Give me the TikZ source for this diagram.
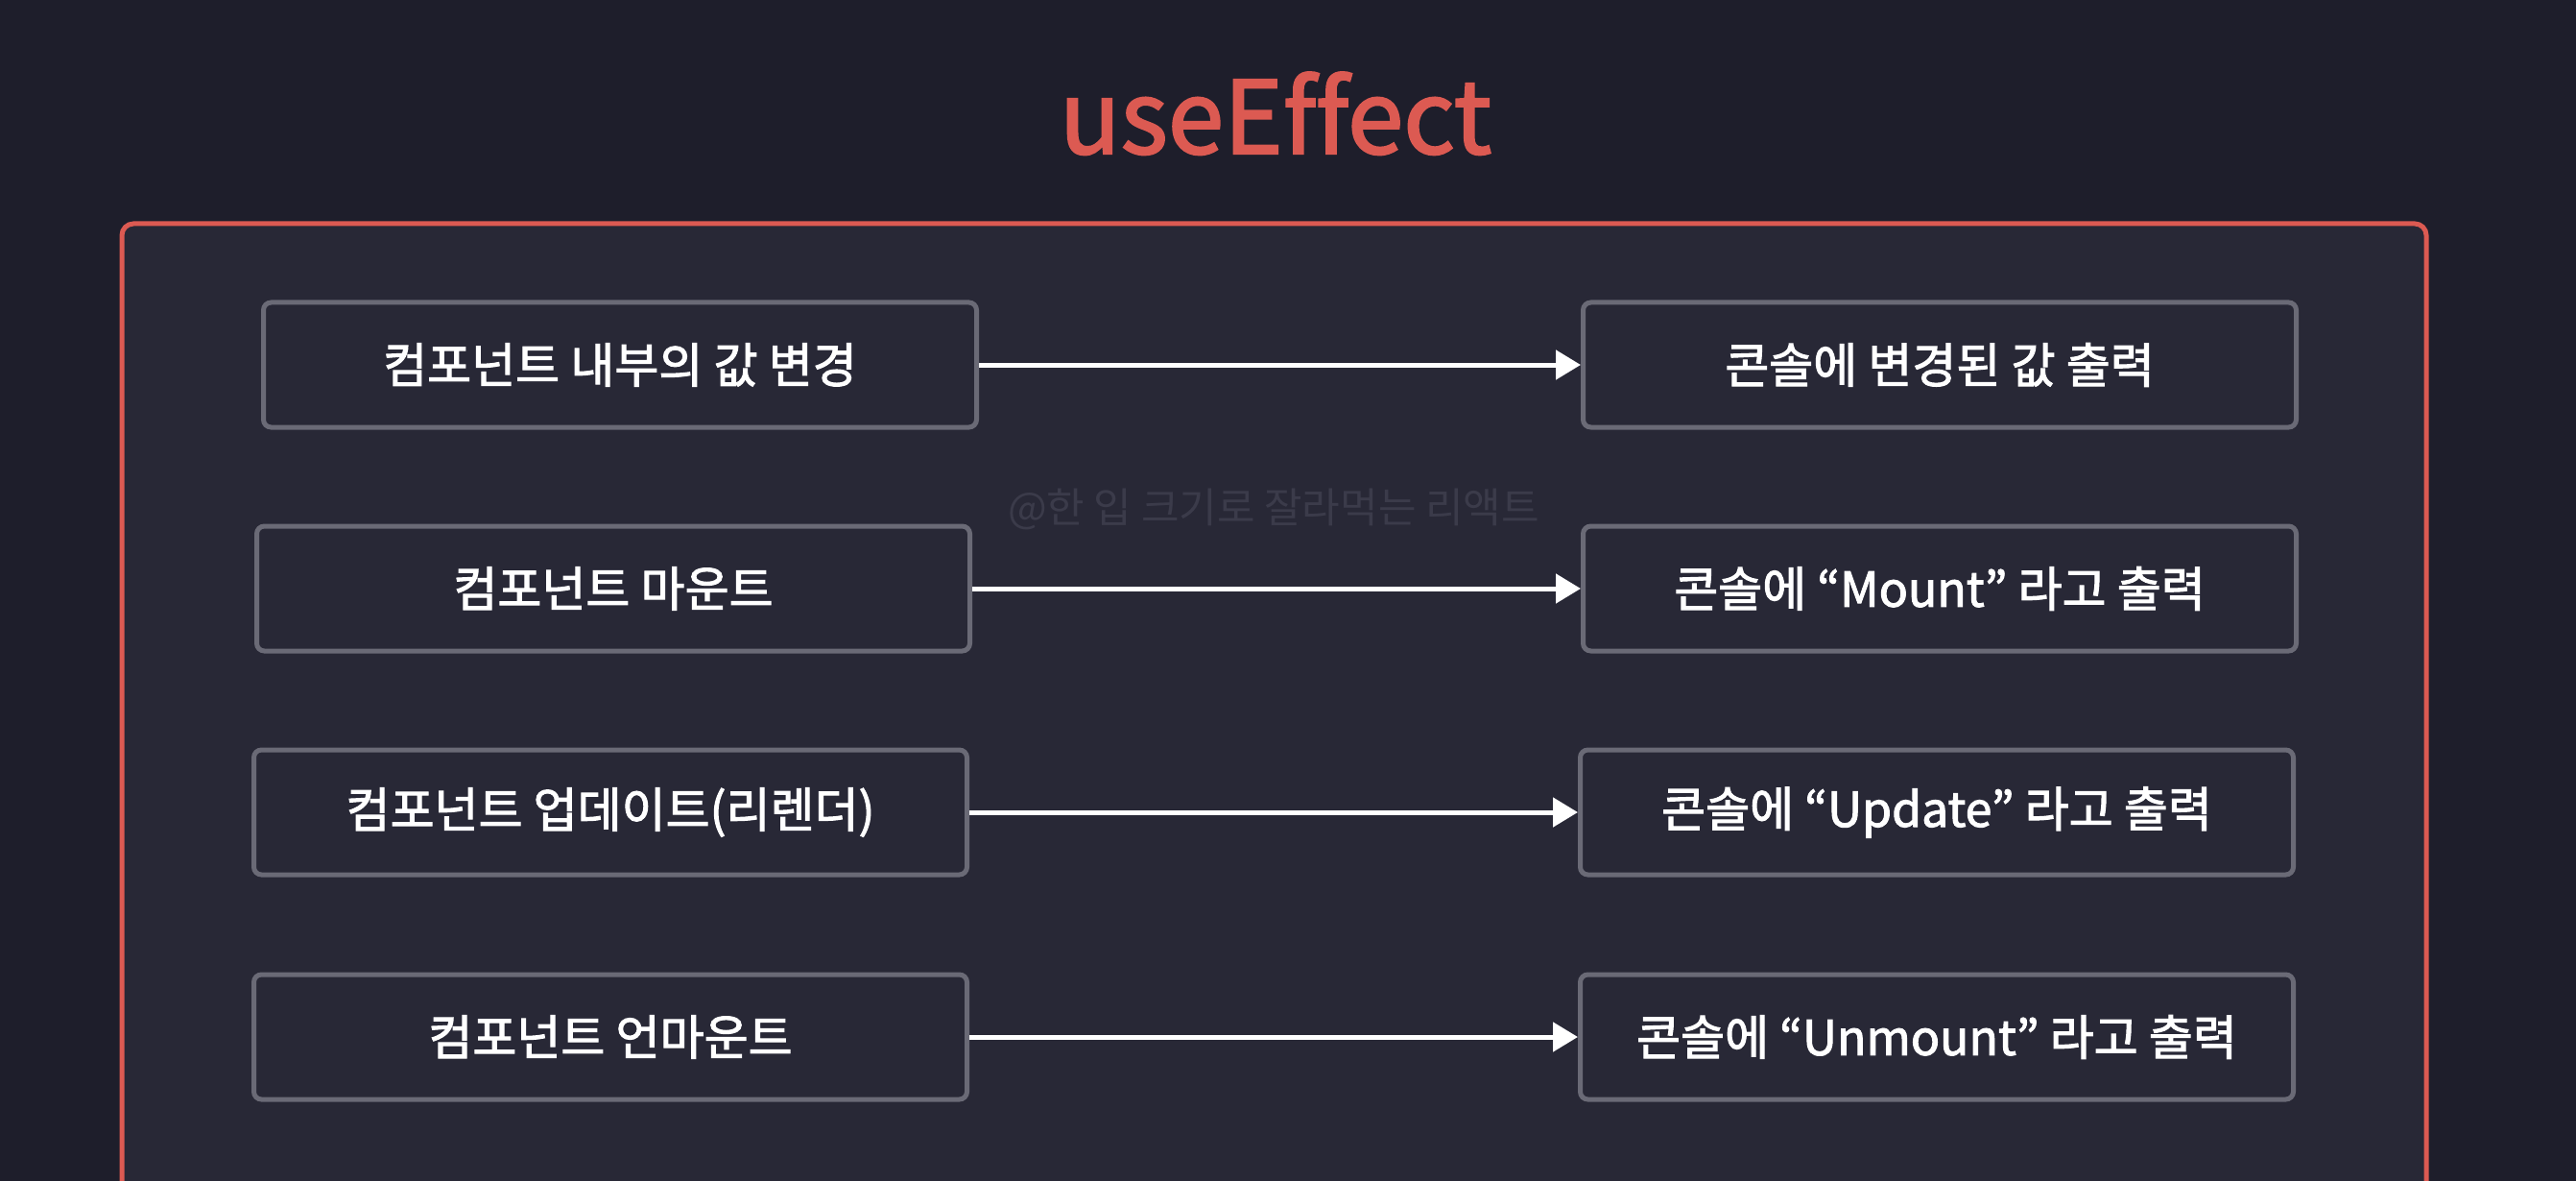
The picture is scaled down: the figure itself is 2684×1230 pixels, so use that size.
\documentclass[tikz,border=0pt]{standalone}
\usepackage{fontspec}
\setmainfont{Noto Sans CJK KR}
\newfontfamily\medfont{Noto Sans CJK KR}[FakeBold=2,Ligatures=NoCommon]
\usetikzlibrary{arrows.meta}
\definecolor{bgdark}{HTML}{1E1E2B}
\definecolor{panel}{HTML}{282836}
\definecolor{effred}{HTML}{DC5A52}
\definecolor{boxgray}{HTML}{6A6A76}
\definecolor{wmark}{HTML}{3B3B4A}
\tikzset{
      frame/.style={draw=effred, line width=5pt, fill=panel, rounded corners=12pt},
      stage/.style={draw=boxgray, line width=5pt, fill=panel, rounded corners=8pt,
            minimum width=743pt, minimum height=130pt, inner sep=0pt,
            text=white, font=\medfont\fontsize{50}{56}\selectfont},
      flow/.style={draw=white, line width=5pt, -{Triangle[length=26pt,width=30pt]}},
}
\begin{document}
\begin{tikzpicture}[x=1pt,y=-1pt]
        \useasboundingbox[fill=bgdark] (0,0) rectangle (2684,1230);

        % Draw the title and the frame
        \node[text=effred, font=\medfont\fontsize{105}{110}\selectfont, anchor=base] (title) at (1329,160) {useEffect};
        \draw[frame] (127,233) rectangle (2528,1320);
        \node[text=wmark, font=\fontsize{43}{48}\selectfont] (wmark) at (1327,530) {@한 입 크기로 잘라먹는 리액트};

        % Draw the events
        \node[stage] (change) at (646,380) {컴포넌트 내부의 값 변경};
        \node[stage] (mount) at (639,613) {컴포넌트 마운트};
        \node[stage] (update) at (636,846) {컴포넌트 업데이트(리렌더)};
        \node[stage] (unmount) at (636,1080) {컴포넌트 언마운트};

        % Draw the console output
        \node[stage] (changelog) at (2021,380) {콘솔에 변경된 값 출력};
        \node[stage] (mountlog) at (2021,613) {콘솔에 “Mount” 라고 출력};
        \node[stage] (updatelog) at (2018,846) {콘솔에 “Update” 라고 출력};
        \node[stage] (unmountlog) at (2018,1080) {콘솔에 “Unmount” 라고 출력};

        \draw[flow] (change) -- (changelog);
        \draw[flow] (mount) -- (mountlog);
        \draw[flow] (update) -- (updatelog);
        \draw[flow] (unmount) -- (unmountlog);

\end{tikzpicture}
\end{document}
